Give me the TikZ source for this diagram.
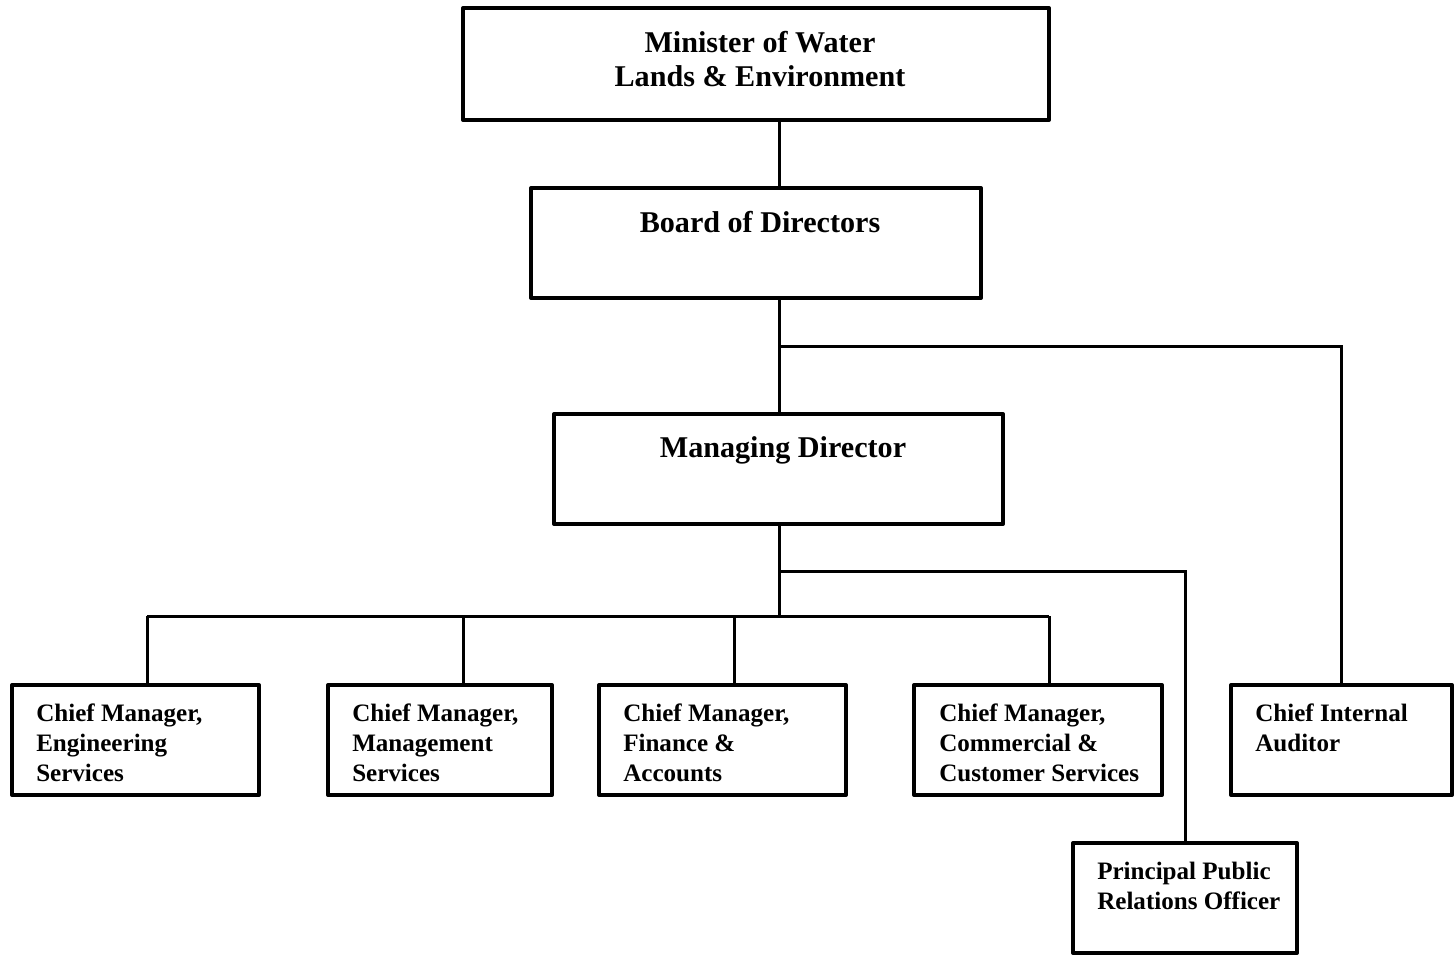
\documentclass[tikz,border=0pt]{standalone}
\usepackage{fontspec}
\setmainfont{Liberation Serif}
\usetikzlibrary{fit}
\begin{document}
\begin{tikzpicture}[x=0.75pt,y=-0.75pt,
  box/.style={draw, line width=3pt, line join=round, inner sep=0pt, fit={#1}},
  link/.style={draw, line width=2.25pt},
  head/.style={inner sep=0pt, align=center, anchor=north,
    font=\fontsize{22.6}{25.5}\selectfont\bfseries},
  role/.style={inner sep=0pt, align=left, anchor=north west,
    font=\fontsize{18.8}{22.3}\selectfont\bfseries}]
\useasboundingbox[fill=white] (0,0) rectangle (1454,956);

% boxes
\node[box={(463,8)(1049,120)}]   (min)  {};
\node[box={(531,188)(981,298)}]  (bod)  {};
\node[box={(554,414)(1003,524)}] (md)   {};
\node[box={(12,685)(259,795)}]   (cm1)  {};
\node[box={(328,685)(552,795)}]  (cm2)  {};
\node[box={(599,685)(846,795)}]  (cm3)  {};
\node[box={(914,685)(1162,795)}] (cm4)  {};
\node[box={(1231,685)(1452,795)}] (aud) {};
\node[box={(1073,843)(1297,953)}] (ppro) {};

% texts
\node[head] (tmin) at (760,31)  {Minister of Water\\Lands \& Environment};
\node[head] (tbod) at (760,211) {Board of Directors};
\node[head] (tmd)  at (783,436) {Managing Director};
\node[role] (t1) at (36,704)   {Chief Manager,\\Engineering\\Services};
\node[role] (t2) at (352,704)  {Chief Manager,\\Management\\Services};
\node[role] (t3) at (623,704)  {Chief Manager,\\Finance \&\\Accounts};
\node[role] (t4) at (939,704)  {Chief Manager,\\Commercial \&\\Customer Services};
\node[role] (t5) at (1255,704) {Chief Internal\\Auditor};
\node[role] (t6) at (1097,862) {Principal Public\\Relations Officer};

% connector points
\coordinate (spine) at (779,0);
\coordinate (ja) at (779,346);
\coordinate (jp) at (779,571);
\coordinate (bus) at (779,616);
\coordinate (d1) at (147,616);
\coordinate (d2) at (463,616);
\coordinate (d3) at (734,616);
\coordinate (d4) at (1049,616);

% connectors
\draw[link] (min.south -| spine) -- (bod.north -| spine);
\draw[link] (bod.south -| spine) -- (md.north -| spine);
\draw[link] (ja) -| (aud.north);
\draw[link] (md.south -| spine) -- (bus);
\draw[link] (jp) -| (ppro.north);
\draw[link] (d1) -- (d4);
\foreach \d/\n in {d1/cm1, d2/cm2, d3/cm3, d4/cm4}
  \draw[link] (\d) -- (\d |- \n.north);
\end{tikzpicture}
\end{document}
